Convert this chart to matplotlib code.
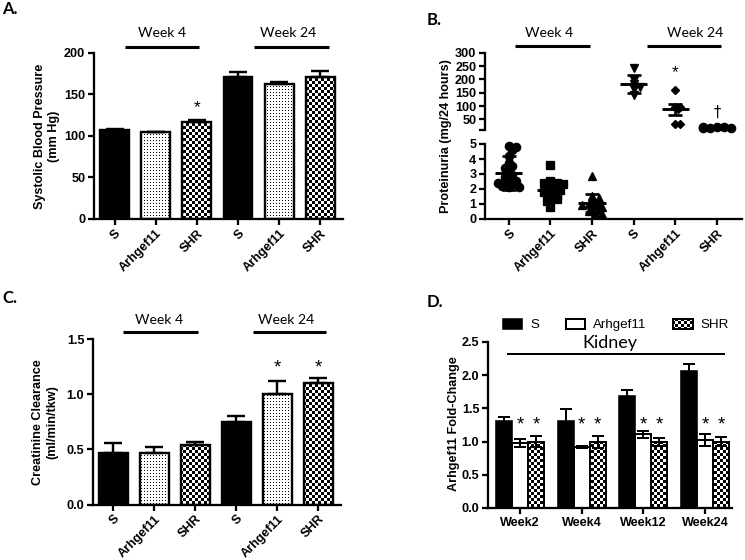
import numpy as np
import matplotlib
matplotlib.use('Agg')
import matplotlib.pyplot as plt
import matplotlib.hatch as mhatch
import matplotlib.transforms as mtrans
from matplotlib.path import Path

# ---- data -------------------------------------------------------------
groups = ['S', 'Arhgef11', 'SHR', 'S', 'Arhgef11', 'SHR']

# A. systolic blood pressure (mm Hg)
sbp_mean = [107, 104.5, 116.5, 170.5, 162.5, 170.5]
sbp_err = [1, 0.8, 2.5, 7, 2.5, 8]

# B. proteinuria (mg/24 hours), individual animals
prot_s4 = [4.9, 4.8, 4.6, 4.2, 3.75, 3.5, 3.4, 3.1, 2.9, 2.8, 2.6, 2.5, 2.4, 2.4, 2.3, 2.2, 2.15, 2.1]
prot_a4 = [3.6, 2.5, 2.4, 2.4, 2.3, 2.2, 2.1, 2.0, 1.9, 1.9, 1.8, 1.7, 1.6, 1.4, 1.3, 1.2, 0.8]
prot_r4 = [2.85, 1.55, 1.4, 1.2, 1.1, 1.0, 0.95, 0.9, 0.8, 0.7, 0.6, 0.5, 0.4, 0.35]
prot_s24 = [244, 198, 181, 172, 163, 141]
prot_a24 = [160, 98, 97, 88, 33, 33]
prot_r24 = [21, 20, 19, 19, 18, 20]
prot_mean = [3.05, 1.9, 1.08, 182, 88, 19]
prot_err = [1.15, 0.55, 0.6, 33, 20, 2]

# C. creatinine clearance (ml/min/tkw)
clr_mean = [0.47, 0.47, 0.535, 0.75, 1.0, 1.1]
clr_err = [0.085, 0.05, 0.03, 0.05, 0.115, 0.05]

# D. Arhgef11 fold change in kidney
weeks = ['Week2', 'Week4', 'Week12', 'Week24']
fc_s = [1.31, 1.31, 1.69, 2.06]
fc_s_err = [0.06, 0.18, 0.09, 0.11]
fc_a = [0.98, 0.92, 1.11, 1.02]
fc_a_err = [0.06, 0.02, 0.05, 0.09]
fc_r = [1.0, 1.0, 1.0, 1.0]
fc_r_err = [0.08, 0.09, 0.06, 0.07]

# ---- hatches: 3 px dots and 3 px checkerboard (tile = 96 px at 96 dpi) --
NCELL = 32
SQ_CODES = [Path.MOVETO, Path.LINETO, Path.LINETO, Path.LINETO, Path.CLOSEPOLY]


class Dots(mhatch.HatchPatternBase):
    def __init__(self, hatch, density):
        self.n = NCELL if '.' in hatch else 0
        self.num_vertices = 5 * self.n * self.n

    def set_vertices_and_codes(self, vertices, codes):
        s = 1.0 / self.n
        d = s / 3
        sq = np.array([[0, 0], [d, 0], [d, d], [0, d], [0, 0]])
        parts = [sq + [i * s, j * s] for i in range(self.n) for j in range(self.n)]
        vertices[:] = np.concatenate(parts)
        codes[:] = np.tile(SQ_CODES, len(parts))


class Checker(mhatch.HatchPatternBase):
    def __init__(self, hatch, density):
        self.n = NCELL if 'X' in hatch else 0
        self.num_vertices = 5 * (self.n * self.n // 2)

    def set_vertices_and_codes(self, vertices, codes):
        s = 1.0 / self.n
        sq = np.array([[0, 0], [s, 0], [s, s], [0, s], [0, 0]])
        parts = [sq + [i * s, j * s] for i in range(self.n) for j in range(self.n)
                 if (i + j) % 2 == 0]
        vertices[:] = np.concatenate(parts)
        codes[:] = np.tile(SQ_CODES, len(parts))


mhatch._hatch_types = [Dots, Checker]

plt.rcParams['font.family'] = 'Liberation Sans'
plt.rcParams['hatch.linewidth'] = 0.0
plt.rcParams['hatch.color'] = 'black'

W, H = 745, 560
fig = plt.figure(figsize=(W / 96, H / 96), dpi=96)


def px_axes(x0, y0, x1, y1):
    return fig.add_axes([x0 / W, 1 - y1 / H, (x1 - x0) / W, (y1 - y0) / H])


def style(ax):
    for s in ['top', 'right']:
        ax.spines[s].set_visible(False)
    for s in ['left', 'bottom']:
        ax.spines[s].set_linewidth(1.7)
    ax.tick_params(width=1.7, length=4.5, labelsize=9.5, pad=2)
    for lab in ax.get_yticklabels():
        lab.set_fontweight('bold')


def cat_xticks(ax):
    ax.set_xticks(range(6))
    ax.set_xticklabels(groups, rotation=45, ha='right', rotation_mode='anchor',
                       fontweight='bold', fontsize=9.5)


def week_marks(ax, spans, centers, y_line, y_text):
    tr = mtrans.blended_transform_factory(ax.transData, ax.transAxes)
    for (x0, x1), xc, name in zip(spans, centers, ['Week 4', 'Week 24']):
        ax.plot([x0, x1], [y_line, y_line], color='black', lw=2.3, transform=tr,
                clip_on=False, solid_capstyle='butt')
        ax.text(xc, y_text, name, transform=tr, ha='center', va='center',
                fontsize=10.5, family='Lato')


colors6 = ['black', 'white', 'white', 'black', 'white', 'white']
hatch6 = ['', '.', 'X', '', '.', 'X']


def bar_panel(ax, mean, err):
    x = np.arange(6)
    bars = ax.bar(x, mean, width=0.7, color=colors6, edgecolor='black', linewidth=1.8)
    for b, h in zip(bars, hatch6):
        b.set_hatch(h)
    ax.errorbar(x, mean, yerr=[np.zeros(6), err], fmt='none', ecolor='black',
                elinewidth=1.8, capsize=7, capthick=1.8)
    ax.set_xlim(-0.5, 5.55)
    style(ax)
    cat_xticks(ax)


# ---- A --------------------------------------------------------------
axA = px_axes(94, 53, 343, 219)
bar_panel(axA, sbp_mean, sbp_err)
axA.set_ylim(0, 200)
axA.set_yticks([0, 50, 100, 150, 200])
axA.text(2, 134, '*', ha='center', va='center', fontsize=13)
week_marks(axA, [(0.25, 2.05), (3.39, 5.2)], [1.15, 4.21], 1.036, 1.12)
fig.text(47 / W, 1 - 136 / H, 'Systolic Blood Pressure\n(mm Hg)', rotation=90,
         ha='center', va='center', fontsize=9.5, fontweight='bold', linespacing=1.2)

# ---- C --------------------------------------------------------------
axC = px_axes(93, 339, 341, 504.5)
bar_panel(axC, clr_mean, clr_err)
axC.set_ylim(0, 1.5)
axC.set_yticks([0, 0.5, 1.0, 1.5])
for i in [4, 5]:
    axC.text(i, 1.24, '*', ha='center', va='center', fontsize=14)
week_marks(axC, [(0.24, 2.06), (3.4, 5.19)], [1.12, 4.22], 1.042, 1.115)
fig.text(45 / W, 1 - 422 / H, 'Creatinine Clearance\n(ml/min/tkw)', rotation=90,
         ha='center', va='center', fontsize=9.5, fontweight='bold', linespacing=1.2)

# ---- B (broken axis) ------------------------------------------------
axBu = px_axes(485, 52.7, 742, 130)
axBl = px_axes(485, 144, 742, 219)
for ax in (axBu, axBl):
    ax.set_xlim(-0.57, 5.6)
    style(ax)
axBu.set_ylim(10, 300)
axBu.set_yticks([50, 100, 150, 200, 250, 300])
axBu.set_yticks([10], minor=True)
axBu.tick_params(which='minor', width=1.7, length=4.5)
axBu.spines['bottom'].set_visible(False)
axBu.tick_params(axis='x', bottom=False, labelbottom=False)
for lab in axBu.get_yticklabels():
    lab.set_fontweight('bold')
axBl.set_ylim(0, 5)
axBl.set_yticks(range(6))
for lab in axBl.get_yticklabels():
    lab.set_fontweight('bold')
cat_xticks(axBl)


def swarm(ax, center, values, diam):
    # push overlapping points sideways (pixel space), like a bee swarm
    pts = ax.transData.transform(np.column_stack([np.full(len(values), center), values]))
    placed, xs = [], []
    step = diam * 0.42
    for px, py in pts:
        for k in [0, 1, -1, 2, -2, 3, -3, 4, -4]:
            cx = px + k * step
            if all((cx - qx) ** 2 + (py - qy) ** 2 >= (diam * 0.55) ** 2 for qx, qy in placed):
                break
        placed.append((cx, py))
        xs.append(cx)
    return ax.transData.inverted().transform(np.column_stack([xs, pts[:, 1]]))[:, 0]


b_sets = [(axBl, prot_s4, 'o', 6.2), (axBl, prot_a4, 's', 5.6), (axBl, prot_r4, '^', 6.0),
          (axBu, prot_s24, 'v', 6.0), (axBu, prot_a24, 'D', 4.3), (axBu, prot_r24, 'o', 6.2)]
for i, (ax, vals, mk, ms) in enumerate(b_sets):
    xs = swarm(ax, i, vals, ms * 96 / 72)
    ax.plot(xs, vals, linestyle='none', marker=mk, ms=ms, color='black', clip_on=False)
    ax.hlines(prot_mean[i], i - 0.33, i + 0.33, color='black', lw=2.2)
    ax.errorbar([i], [prot_mean[i]], yerr=[[prot_err[i]], [prot_err[i]]], fmt='none',
                ecolor='black', elinewidth=2.0, capsize=5, capthick=2.0)

axBu.text(4, 224, '*', ha='center', va='center', fontsize=13)
axBu.text(5, 78, '\u2020', ha='center', va='center', fontsize=11, family='DejaVu Sans')
week_marks(axBu, [(0.15, 1.94), (3.31, 5.09)], [0.98, 4.47], 1.087, 1.255)
fig.text(446 / W, 1 - 136 / H, 'Proteinuria (mg/24 hours)', rotation=90,
         ha='center', va='center', fontsize=9.5, fontweight='bold')

# ---- D --------------------------------------------------------------
axD = px_axes(488, 342, 732, 508)
xw = np.arange(4)
bw = 0.26
bs = axD.bar(xw - bw, fc_s, width=bw, color='black', edgecolor='black', linewidth=1.2, label='S')
ba = axD.bar(xw, fc_a, width=bw, color='white', edgecolor='black', linewidth=1.5, label='Arhgef11')
br = axD.bar(xw + bw, fc_r, width=bw, color='white', edgecolor='black', linewidth=1.5,
             hatch='X', label='SHR')
for off, m, e in [(-bw, fc_s, fc_s_err), (0, fc_a, fc_a_err), (bw, fc_r, fc_r_err)]:
    axD.errorbar(xw + off, m, yerr=e, fmt='none', ecolor='black', elinewidth=1.5,
                 capsize=4.5, capthick=1.5)
for i in range(4):
    for off in (0, bw):
        axD.text(i + off, 1.25, '*', ha='center', va='center', fontsize=14)
axD.set_xlim(-0.52, 3.44)
axD.set_ylim(0, 2.5)
axD.set_yticks([0, 0.5, 1.0, 1.5, 2.0, 2.5])
style(axD)
axD.set_xticks(xw)
axD.set_xticklabels(weeks, fontweight='bold', fontsize=9.5)
axD.plot([-0.21, 3.32], [2.32, 2.32], color='black', lw=1.5, solid_capstyle='butt')
axD.text(1.46, 2.49, 'Kidney', ha='center', va='center', fontsize=13.5, family='Lato')
fig.text(454 / W, 1 - 424 / H, 'Arhgef11 Fold-Change', rotation=90,
         ha='center', va='center', fontsize=9.5, fontweight='bold')
fig.legend(handles=[bs, ba, br], labels=['S', 'Arhgef11', 'SHR'], ncol=3, frameon=False,
           loc='center left', bbox_to_anchor=(503 / W, 1 - 325 / H), borderpad=0,
           borderaxespad=0, handlelength=1.45, handleheight=0.75, handletextpad=0.6,
           columnspacing=2.0, fontsize=10)

# ---- panel letters ----------------------------------------------------
for lab, x, y in [('A.', 2, 9), ('B.', 427, 20), ('C.', 2, 298), ('D.', 427, 302)]:
    fig.text(x / W, 1 - y / H, lab, ha='left', va='center', fontsize=12.5,
             fontweight='bold', family='Lato')

fig.savefig('out.png', dpi=96)
